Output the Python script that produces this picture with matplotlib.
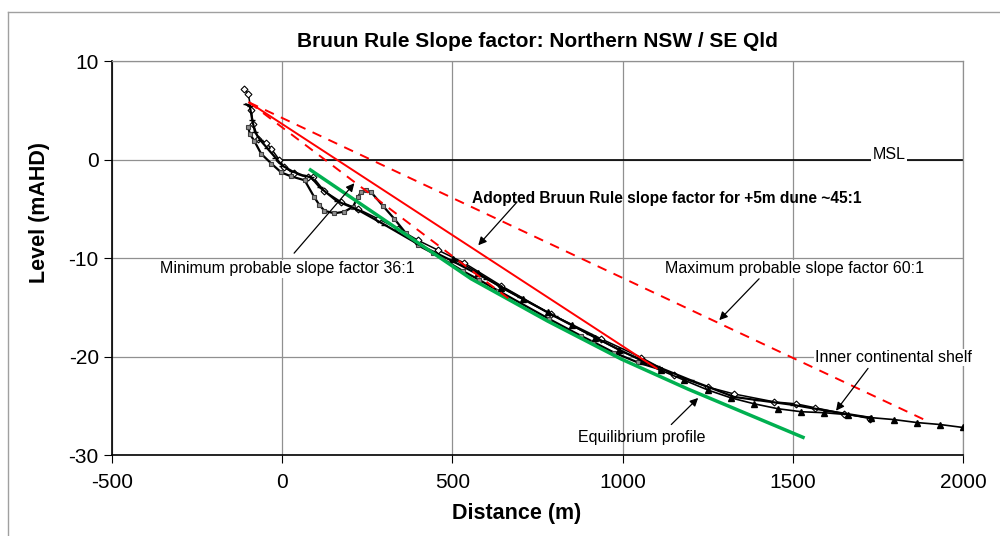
import numpy as np
import matplotlib
matplotlib.use("Agg")
import matplotlib.pyplot as plt
from matplotlib.lines import Line2D

plt.rcParams['font.family'] = ['Liberation Sans', 'DejaVu Sans']
plt.rcParams['axes.unicode_minus'] = False

# survey profiles (distance m, level mAHD)
prof_a_x = [-112, -100, -91, -85, -70, -47, -32, -9, 6, 35, 76, 91, 124, 173, 222, 281, 340,
            399, 458, 535, 643, 790, 937, 1055, 1152, 1251, 1328, 1446, 1510, 1566, 1651, 1727]
prof_a_y = [7.2, 6.7, 5.0, 3.6, 2.1, 1.7, 1.1, 0.0, -0.8, -1.4, -1.8, -1.8, -3.2, -4.3, -5.0, -6.0,
            -7.0, -8.2, -9.2, -10.5, -12.8, -15.7, -18.2, -20.1, -21.9, -23.1, -23.8, -24.6,
            -24.8, -25.2, -25.8, -26.3]

prof_b_x = [-100, -95, -82, -62, -32, -3, 26, 66, 94, 109, 124, 153, 182, 208, 222, 232, 247,
            261, 296, 329, 364, 399, 443, 530, 578, 634, 785, 878, 913, 975, 1045, 1110]
prof_b_y = [3.3, 2.6, 1.9, 0.6, -0.4, -1.3, -1.7, -2.1, -3.8, -4.6, -5.2, -5.45, -5.3, -4.8,
            -3.8, -3.3, -3.1, -3.3, -4.7, -6.0, -7.5, -8.7, -9.5, -11.3, -12.2, -13.3, -16.2,
            -17.9, -18.5, -19.6, -20.6, -21.3]

prof_c_x = [-106, -95, -88, -80, -65, -45, -20, 0, 30, 60, 85, 110, 160, 222, 300, 400, 500,
            600, 700, 800, 900, 1000, 1100, 1200, 1328, 1392, 1500, 1600, 1727]
prof_c_y = [5.6, 5.4, 4.0, 2.8, 2.0, 1.2, 0.2, -0.6, -1.2, -1.6, -1.8, -2.8, -4.2, -5.1, -6.6,
            -8.6, -10.3, -12.1, -14.0, -15.9, -17.7, -19.5, -21.0, -22.4, -24.1, -24.4, -24.9,
            -25.5, -26.2]

prof_d_x = [502, 576, 643, 708, 780, 850, 920, 990, 1060, 1113, 1181, 1251, 1319, 1387, 1457,
            1525, 1592, 1662, 1730, 1798, 1865, 1933, 2000]
prof_d_y = [-10.05, -11.5, -13.0, -14.2, -15.5, -16.8, -18.1, -19.3, -20.5, -21.4, -22.4, -23.4,
            -24.2, -24.8, -25.3, -25.6, -25.7, -25.9, -26.2, -26.4, -26.7, -26.9, -27.2]

# equilibrium profile
equil_x = [83, 320, 555, 780, 996, 1192, 1530]
equil_y = [-1.05, -6.6, -12.1, -16.4, -20.25, -23.3, -28.2]

# slope factor lines
adopted_x = [-97, 1100]
adopted_y = [5.8, -21.2]
min_x = [-97, 680]
min_y = [5.8, -14.5]
max_x = [-97, 1892]
max_y = [5.8, -26.5]

msl_x = [0, 2000]
msl_y = [0, 0]

fig = plt.figure(figsize=(10, 5.36), dpi=100)
ax = fig.add_axes([0.112, 0.151, 0.851, 0.735])

# figure border
fig.add_artist(Line2D([0.008, 0.008], [0, 0.978], color='#a0a0a0', lw=1))
fig.add_artist(Line2D([0.008, 1.0], [0.978, 0.978], color='#a0a0a0', lw=1))

ax.set_xlim(-500, 2000)
ax.set_ylim(-30, 10)
ax.set_xticks([-500, 0, 500, 1000, 1500, 2000])
ax.set_yticks([-30, -20, -10, 0, 10])
ax.grid(True, color='#909090', lw=0.9)
ax.set_axisbelow(True)
for s in ['top', 'right']:
    ax.spines[s].set_color('#909090')
    ax.spines[s].set_linewidth(0.9)
for s in ['left', 'bottom']:
    ax.spines[s].set_color('black')
    ax.spines[s].set_linewidth(1.2)
ax.tick_params(labelsize=15, length=6, direction='out')
ax.tick_params(axis='x', pad=7)

ax.plot(msl_x, msl_y, color='black', lw=1.2, zorder=2)

ax.plot(prof_a_x, prof_a_y, color='black', lw=1.1, marker='D', ms=3.5, mfc='white',
        mec='black', mew=0.8, zorder=3)
ax.plot(prof_b_x, prof_b_y, color='black', lw=1.6, marker='s', ms=3.5, mfc='#909090',
        mec='#404040', mew=0.8, zorder=3)
ax.plot(prof_c_x, prof_c_y, color='black', lw=1.6, marker='_', ms=5, mew=1, zorder=3)
ax.plot(prof_d_x, prof_d_y, color='black', lw=1.2, marker='^', ms=4.5, mfc='black', zorder=3)

ax.plot(equil_x, equil_y, color='#00b050', lw=2.5, zorder=4)
ax.plot(adopted_x, adopted_y, color='red', lw=1.4, zorder=5)
ax.plot(min_x, min_y, color='red', lw=1.4, ls=(0, (5, 4)), zorder=5)
ax.plot(max_x, max_y, color='red', lw=1.4, ls=(0, (5, 4)), zorder=5)

box = dict(facecolor='white', edgecolor='none', pad=1)
arrow = dict(arrowstyle='-|>', color='black', lw=0.9, mutation_scale=12, shrinkA=0, shrinkB=0)

ax.text(1783, 0.5, 'MSL', fontsize=11.5, ha='center', va='center', bbox=box, zorder=6)
ax.annotate('', xy=(576, -8.7), xytext=(690, -4.3), arrowprops=arrow, zorder=6)
ax.text(558, -3.9, 'Adopted Bruun Rule slope factor for +5m dune ~45:1', fontsize=11.2,
        fontweight='bold', ha='left', va='center', zorder=6)
ax.annotate('', xy=(212, -2.4), xytext=(35, -9.5), arrowprops=arrow, zorder=6)
ax.text(-358, -11.1, 'Minimum probable slope factor 36:1', fontsize=11.5, ha='left',
        va='center', bbox=box, zorder=6)
ax.annotate('', xy=(1284, -16.3), xytext=(1401, -12.1), arrowprops=arrow, zorder=6)
ax.text(1125, -11.1, 'Maximum probable slope factor 60:1', fontsize=11.5, ha='left',
        va='center', bbox=box, zorder=6)
ax.annotate('', xy=(1627, -25.5), xytext=(1721, -21.2), arrowprops=arrow, zorder=6)
ax.text(1566, -20.1, 'Inner continental shelf', fontsize=11.5, ha='left', va='center',
        bbox=box, zorder=6)
ax.annotate('', xy=(1222, -24.2), xytext=(1143, -26.9), arrowprops=arrow, zorder=6)
ax.text(868, -28.2, 'Equilibrium profile', fontsize=11.5, ha='left', va='center', zorder=6)

ax.set_title('Bruun Rule Slope factor: Northern NSW / SE Qld', fontsize=15,
             fontweight='bold', pad=10)
ax.set_xlabel('Distance (m)', fontsize=15.5, fontweight='bold')
ax.xaxis.set_label_coords(0.476, -0.122)
ax.set_ylabel('Level (mAHD)', fontsize=15.5, fontweight='bold')
ax.yaxis.set_label_coords(-0.073, 0.615)

fig.savefig('out.png', dpi=100)
